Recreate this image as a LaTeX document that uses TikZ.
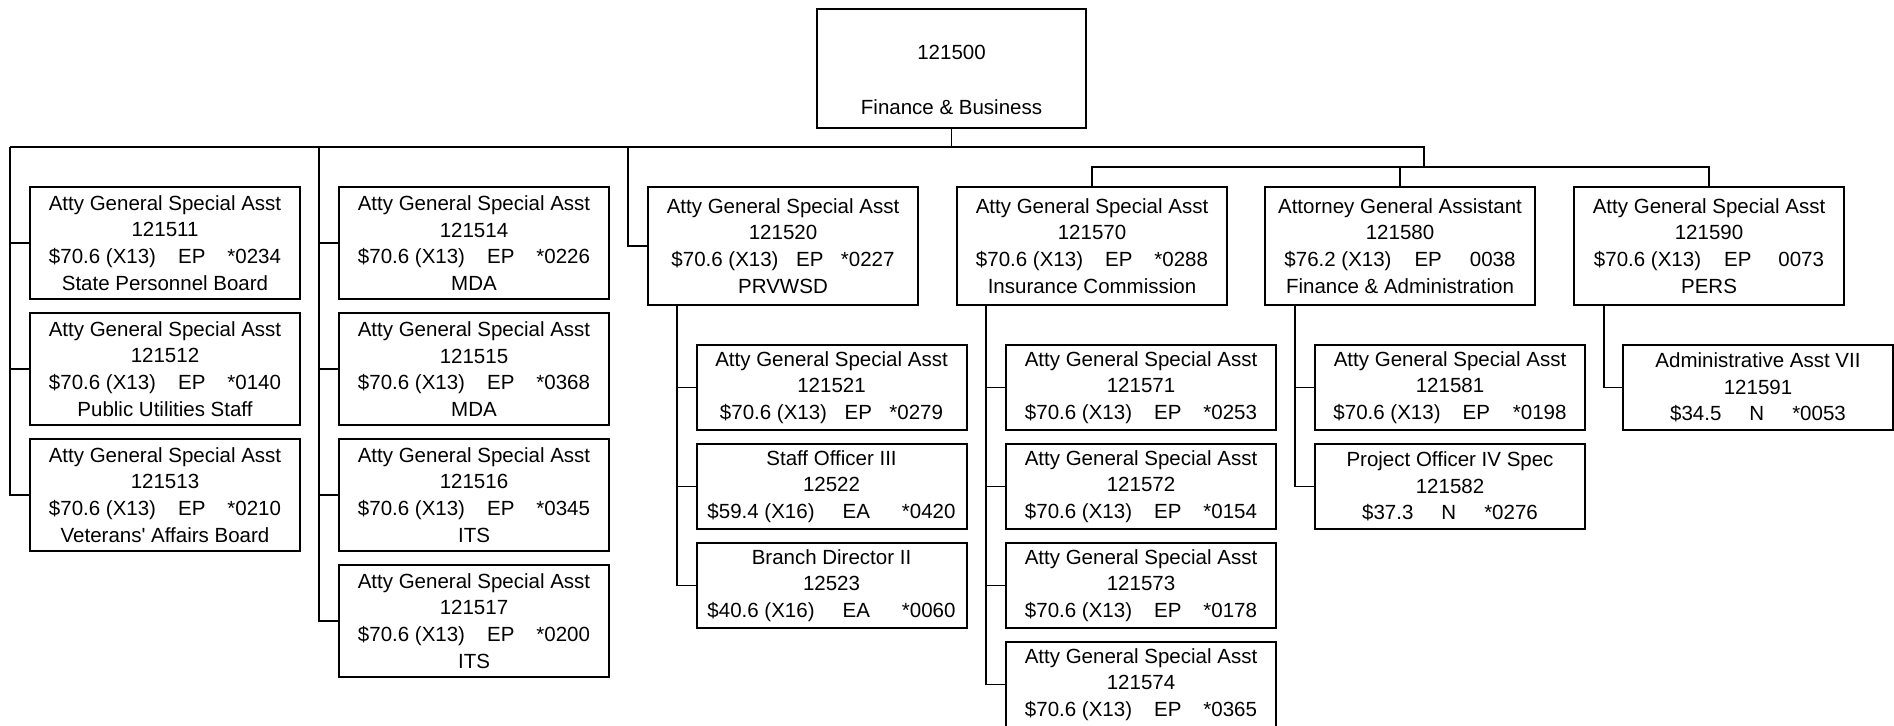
\documentclass[tikz,border=0pt]{standalone}
\usepackage{fontspec}
\setmainfont{Liberation Sans}
\tikzset{
  box/.style={draw, line width=1pt, minimum width=135pt, inner sep=0pt, align=center,
    font=\fontsize{10.25}{13.35}\selectfont},
  unitbox/.style={box, minimum height=56pt},
  headbox/.style={box, minimum height=59pt},
  subbox/.style={box, minimum height=42.5pt},
  topbox/.style={draw, line width=1pt, minimum width=134.5pt, minimum height=59.5pt, inner sep=0pt},
  txt/.style={align=center, inner sep=0pt, font=\fontsize{10.25}{13.35}\selectfont},
  link/.style={line width=0.7pt}
}
\newcommand\gp[1]{\hspace{#1}}
\begin{document}
\begin{tikzpicture}[x=0.5pt,y=-0.5pt]
\useasboundingbox (0,0) rectangle (1894,726);
% top
\node[topbox] (top) at (951.5,68.5) {};
\node[txt] (toptext) at (951.5,80) {121500\\[14pt]Finance \& Business};
% column 1
\node[unitbox] (b11) at (165,243) {Atty General Special Asst\\121511\\\$70.6 (X13)\gp{11pt}EP\gp{11pt}*0234\\State Personnel Board};
\node[unitbox] (b12) at (165,369) {Atty General Special Asst\\121512\\\$70.6 (X13)\gp{11pt}EP\gp{11pt}*0140\\Public Utilities Staff};
\node[unitbox] (b13) at (165,495) {Atty General Special Asst\\121513\\\$70.6 (X13)\gp{11pt}EP\gp{11pt}*0210\\Veterans\textquotesingle{} Affairs Board};
% column 2
\node[unitbox] (b14) at (474,243) {Atty General Special Asst\\121514\\\$70.6 (X13)\gp{11pt}EP\gp{11pt}*0226\\MDA};
\node[unitbox] (b15) at (474,369) {Atty General Special Asst\\121515\\\$70.6 (X13)\gp{11pt}EP\gp{11pt}*0368\\MDA};
\node[unitbox] (b16) at (474,495) {Atty General Special Asst\\121516\\\$70.6 (X13)\gp{11pt}EP\gp{11pt}*0345\\ITS};
\node[unitbox] (b17) at (474,621) {Atty General Special Asst\\121517\\\$70.6 (X13)\gp{11pt}EP\gp{11pt}*0200\\ITS};
% heads
\node[headbox] (b20) at (783,246) {Atty General Special Asst\\121520\\\$70.6 (X13)\gp{8.75pt}EP\gp{8.75pt}*0227\\PRVWSD};
\node[headbox] (b70) at (1092,246) {Atty General Special Asst\\121570\\\$70.6 (X13)\gp{11pt}EP\gp{11pt}*0288\\Insurance Commission};
\node[headbox] (b80) at (1400,246) {Attorney General Assistant\\121580\\\$76.2 (X13)\gp{11.5pt}EP\gp{14pt}0038\\Finance \& Administration};
\node[headbox] (b90) at (1709,246) {Atty General Special Asst\\121590\\\$70.6 (X13)\gp{11.5pt}EP\gp{13.5pt}0073\\PERS};
% children of 121520
\node[subbox] (b21) at (831.5,387.5) {Atty General Special Asst\\121521\\\$70.6 (X13)\gp{8.75pt}EP\gp{8.75pt}*0279};
\node[subbox] (b22) at (831.5,486.5) {Staff Officer III\\12522\\\$59.4 (X16)\gp{14pt}EA\gp{16pt}*0420};
\node[subbox] (b23) at (831.5,585.5) {Branch Director II\\12523\\\$40.6 (X16)\gp{14pt}EA\gp{16pt}*0060};
% children of 121570
\node[subbox] (b71) at (1141,387.5) {Atty General Special Asst\\121571\\\$70.6 (X13)\gp{11pt}EP\gp{11pt}*0253};
\node[subbox] (b72) at (1141,486.5) {Atty General Special Asst\\121572\\\$70.6 (X13)\gp{11pt}EP\gp{11pt}*0154};
\node[subbox] (b73) at (1141,585.5) {Atty General Special Asst\\121573\\\$70.6 (X13)\gp{11pt}EP\gp{11pt}*0178};
\node[subbox] (b74) at (1141,684.5) {Atty General Special Asst\\121574\\\$70.6 (X13)\gp{11pt}EP\gp{11pt}*0365};
% children of 121580
\node[subbox] (b81) at (1450,387.5) {Atty General Special Asst\\121581\\\$70.6 (X13)\gp{11pt}EP\gp{11.5pt}*0198};
\node[subbox] (b82) at (1450,486.5) {Project Officer IV Spec\\121582\\\$37.3\gp{14pt}N\gp{14pt}*0276};
% child of 121590
\node[subbox] (b91) at (1758,387.5) {Administrative Asst VII\\121591\\\$34.5\gp{14pt}N\gp{14pt}*0053};
% coordinates
\coordinate (busL) at (10,147);
\coordinate (busR) at (1424,147);
\coordinate (bus2) at (1424,167);
\coordinate (c2) at (319,147);
\coordinate (c3) at (628,147);
\coordinate (k3) at (677,305);
\coordinate (k7) at (986,305);
\coordinate (k8) at (1295,305);
\coordinate (k9) at (1604,305);
% connectors
\draw[link] (top.south) -- (top.south |- busL);
\draw[link] (busL) -- (busR) -- (bus2);
\draw[link] (busL) |- (b13.west);
\draw[link] (busL |- b11.west) -- (b11.west);
\draw[link] (busL |- b12.west) -- (b12.west);
\draw[link] (c2) |- (b17.west);
\draw[link] (c2 |- b14.west) -- (b14.west);
\draw[link] (c2 |- b15.west) -- (b15.west);
\draw[link] (c2 |- b16.west) -- (b16.west);
\draw[link] (c3) |- (b20.west);
\draw[link] (b70.north) -- (b70.north |- bus2) -- (b90.north |- bus2) -- (b90.north);
\draw[link] (b80.north) -- (b80.north |- bus2);
\draw[link] (k3) |- (b23.west);
\draw[link] (k3 |- b21.west) -- (b21.west);
\draw[link] (k3 |- b22.west) -- (b22.west);
\draw[link] (k7) |- (b74.west);
\draw[link] (k7 |- b71.west) -- (b71.west);
\draw[link] (k7 |- b72.west) -- (b72.west);
\draw[link] (k7 |- b73.west) -- (b73.west);
\draw[link] (k8) |- (b82.west);
\draw[link] (k8 |- b81.west) -- (b81.west);
\draw[link] (k9) |- (b91.west);
\end{tikzpicture}
\end{document}
